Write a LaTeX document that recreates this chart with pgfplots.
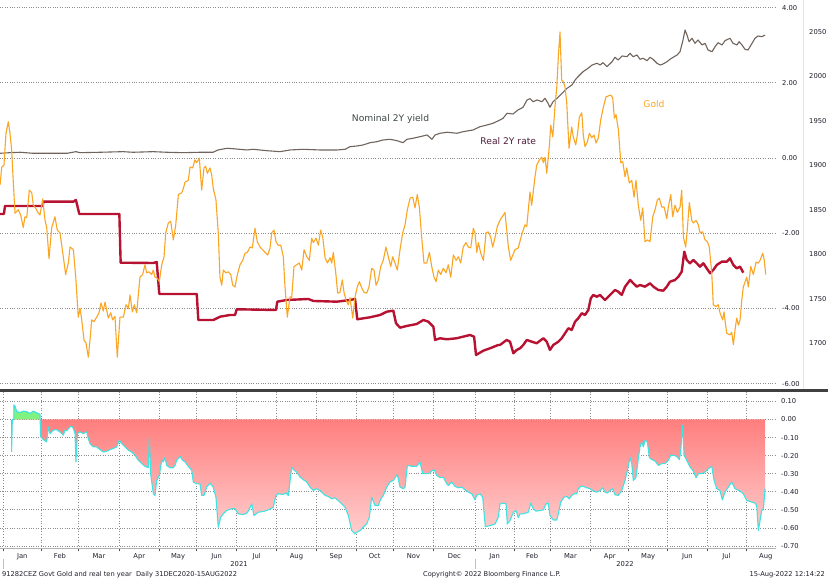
\documentclass[border=0pt]{standalone}
\usepackage{pgfplots}
\pgfplotsset{compat=1.18}
\usepackage{pgfplotstable}
\usepackage{fontspec}
\setmainfont{DejaVu Sans}
\definecolor{goldc}{RGB}{250,165,35}
\definecolor{nomc}{RGB}{112,100,92}
\definecolor{realc}{RGB}{184,18,50}
\definecolor{gridc}{RGB}{140,140,140}
\definecolor{cyanc}{RGB}{64,226,226}
\definecolor{txtc}{RGB}{30,30,42}
\definecolor{nomtxt}{RGB}{62,72,72}
\definecolor{realtxt}{RGB}{80,30,60}
\definecolor{redtop}{RGB}{255,116,116}
\definecolor{redbot}{RGB}{255,206,206}
\definecolor{greenc}{RGB}{128,242,128}
\definecolor{sepc}{RGB}{64,64,64}

\pgfplotstableread{
day val
-1 1878
0.3 1898
2.0 1900
3.6 1936
5.4 1949
6.7 1936
8.0 1917
9.3 1880
10.6 1846
13.1 1850
15.0 1844
17.0 1830
18.3 1842
19.7 1841
21.7 1872
23.6 1869
24.8 1855
26.1 1853
28.7 1846
30.0 1844
32.1 1862
33.9 1838
35.2 1830
37.0 1795
39.1 1830
41.6 1842
43.4 1827
45.5 1824
48.1 1797
49.9 1777
52.0 1790
53.3 1808
55.9 1805
57.9 1771
59.7 1729
61.1 1739
62.4 1726
64.2 1703
65.7 1700
67.5 1684
68.8 1703
70.1 1726
71.9 1724
74.0 1729
75.8 1734
77.4 1745
79.1 1736
80.5 1746
81.8 1737
83.0 1728
84.9 1734
86.4 1726
88.2 1730
90.0 1684
92.1 1729
94.7 1729
96.8 1743
98.6 1739
99.9 1754
101.7 1735
103.2 1743
105.1 1734
106.3 1754
107.6 1774
109.7 1777
111.5 1788
112.8 1779
114.6 1780
116.7 1777
117.9 1782
119.3 1774
121.1 1773
122.6 1769
124.5 1788
126.3 1797
127.6 1824
129.6 1835
131.5 1837
133.5 1816
135.4 1833
137.4 1867
140.0 1869
141.3 1874
142.6 1881
145.1 1883
146.5 1898
148.5 1897
150.3 1906
151.7 1903
153.7 1908
155.5 1872
157.3 1897
158.6 1899
159.9 1891
162.0 1897
163.3 1889
164.5 1874
166.6 1861
168.4 1824
169.7 1774
171.1 1765
172.3 1782
174.2 1779
176.2 1780
178.1 1777
179.6 1765
181.4 1763
183.2 1777
185.3 1788
187.4 1793
189.2 1801
191.0 1802
193.0 1808
194.8 1807
196.9 1829
198.7 1814
200.8 1808
202.1 1806
204.7 1802
206.8 1799
208.6 1807
209.9 1824
211.7 1827
213.2 1814
215.0 1810
216.9 1810
218.9 1797
220.2 1763
222.0 1729
224.1 1752
225.4 1751
227.2 1786
229.3 1788
231.3 1790
233.2 1782
235.0 1805
237.1 1797
239.1 1793
240.9 1818
242.2 1813
244.3 1818
246.1 1810
247.9 1827
249.5 1819
251.3 1796
253.1 1790
255.2 1796
256.5 1790
257.7 1802
259.6 1779
261.1 1756
262.9 1757
264.7 1771
266.0 1757
267.6 1748
269.4 1743
270.7 1751
272.8 1728
274.6 1752
276.3 1763
277.9 1769
279.8 1762
281.5 1757
283.6 1756
285.4 1763
287.5 1784
289.3 1782
290.9 1765
292.7 1771
294.5 1786
296.5 1793
298.6 1808
300.4 1797
302.3 1786
303.8 1797
305.6 1790
307.4 1782
309.5 1805
311.6 1824
313.4 1833
315.2 1850
317.3 1863
319.4 1864
321.1 1852
322.9 1867
324.5 1853
326.3 1819
328.1 1790
330.2 1790
332.3 1802
334.1 1786
335.9 1774
337.5 1769
339.2 1782
341.1 1777
343.1 1784
345.2 1779
347.0 1788
348.9 1774
350.9 1799
353.0 1793
354.8 1797
356.6 1790
358.6 1808
360.7 1813
362.5 1808
364.4 1807
366.4 1829
367.7 1824
369.1 1802
370.3 1813
372.2 1801
374.2 1793
376.3 1824
378.1 1825
379.9 1819
381.5 1808
383.3 1819
385.0 1831
387.1 1838
391.0 1847
393.6 1808
395.4 1793
398.8 1805
401.3 1807
404.0 1822
406.5 1833
407.9 1831
410.4 1870
411.7 1855
414.3 1887
415.6 1900
417.7 1906
419.5 1909
420.8 1903
422.1 1909
423.4 1891
425.4 1921
426.5 1945
428.1 1932
429.8 1966
431.2 1988
432.4 2022
433.7 2050
435.0 1996
436.3 1994
437.6 1988
438.9 1971
440.7 1919
442.8 1943
444.0 1932
445.9 1923
447.2 1934
448.7 1954
450.6 1959
451.8 1934
453.1 1921
454.9 1926
456.5 1936
458.3 1931
460.1 1934
461.7 1925
463.5 1931
465.3 1951
467.3 1965
469.4 1977
471.2 1978
473.1 1979
474.6 1976
475.9 1953
477.2 1957
479.0 1940
480.9 1903
482.4 1904
484.2 1887
485.5 1897
487.5 1880
489.4 1883
491.2 1864
492.7 1883
494.5 1855
496.4 1838
497.9 1852
499.7 1814
501.5 1816
503.6 1814
505.7 1842
507.5 1850
509.3 1861
510.8 1863
512.7 1853
514.5 1853
516.6 1840
517.8 1853
519.7 1867
521.2 1842
523.0 1855
524.8 1847
526.9 1853
528.2 1872
529.5 1819
531.3 1808
532.6 1829
534.1 1858
536.0 1838
537.2 1835
539.3 1838
541.1 1833
542.4 1824
544.5 1825
546.3 1816
548.1 1814
549.6 1808
551.5 1779
552.7 1743
554.8 1741
556.6 1743
557.9 1734
560.0 1726
561.0 1735
563.1 1711
565.7 1709
567.0 1712
568.3 1698
569.6 1715
570.9 1728
572.2 1720
573.5 1726
574.8 1748
576.0 1763
578.7 1774
579.9 1763
581.8 1786
583.8 1777
585.9 1791
587.7 1790
589.0 1793
591.1 1801
592.3 1793
593.4 1777
}\goldtab

\pgfplotstableread{
day val
-1.0 0.125
6.7 0.141
14.5 0.152
24.6 0.125
37.8 0.125
51.0 0.125
57.9 0.168
61.0 0.141
76.6 0.152
94.4 0.168
102.2 0.152
117.7 0.168
128.6 0.152
141.0 0.141
154.2 0.152
164.3 0.152
168.2 0.213
175.2 0.258
179.8 0.247
190.7 0.213
195.4 0.231
206.2 0.194
216.3 0.168
224.1 0.213
234.2 0.231
247.4 0.213
260.6 0.213
266.8 0.231
270.7 0.301
276.1 0.319
280.8 0.346
286.2 0.407
291.6 0.434
296.3 0.479
301.7 0.497
307.2 0.460
311.8 0.407
314.9 0.497
319.6 0.524
325.0 0.566
330.5 0.612
334.3 0.497
336.7 0.612
340.6 0.657
346.0 0.684
353.8 0.657
358.4 0.699
366.2 0.745
371.6 0.832
377.0 0.878
381.7 0.923
387.1 1.011
389.5 1.056
392.6 1.189
397.2 1.170
401.1 1.277
405.0 1.348
408.1 1.543
410.4 1.577
412.8 1.497
415.9 1.543
419.7 1.497
422.1 1.588
424.4 1.455
425.9 1.348
428.3 1.497
431.4 1.588
435.3 1.721
439.2 1.854
443.0 1.941
445.4 2.074
447.7 2.162
451.6 2.295
455.5 2.386
458.6 2.473
462.5 2.519
464.8 2.473
467.1 2.535
470.2 2.428
474.1 2.561
476.4 2.678
478.8 2.606
481.9 2.713
485.7 2.694
488.1 2.785
490.4 2.694
493.5 2.739
495.8 2.625
498.2 2.652
501.3 2.588
503.6 2.678
505.9 2.625
509.0 2.519
511.4 2.473
513.7 2.500
516.8 2.561
519.1 2.625
521.5 2.678
524.6 2.739
526.9 2.827
529.2 3.138
530.8 3.404
532.3 3.271
533.9 3.093
536.2 3.184
538.5 3.051
540.9 3.138
544.0 3.005
546.3 3.051
548.6 2.872
551.7 2.827
554.1 2.960
556.4 3.066
559.5 3.005
561.8 3.120
565.7 3.184
568.0 3.051
571.1 3.005
572.7 3.093
575.0 3.005
577.3 2.891
579.7 2.872
582.8 3.051
585.1 3.184
587.4 3.245
590.5 3.226
592.9 3.271
}\nomtab

\pgfplotstableread{
day val
-1.1 -1.489
2.0 -1.489
2.8 -1.277
32.1 -1.277
32.6 -1.162
55.9 -1.162
57.9 -1.117
60.5 -1.489
91.6 -1.489
92.6 -2.785
118.0 -2.793
120.6 -2.766
122.6 -3.617
151.7 -3.617
152.9 -4.309
164.6 -4.309
169.8 -4.221
177.5 -4.176
181.4 -4.176
182.7 -4.024
213.2 -4.043
214.2 -3.822
221.5 -3.777
238.3 -3.750
242.2 -3.803
260.4 -3.822
270.7 -3.777
274.6 -3.750
276.3 -4.290
286.2 -4.237
294.0 -4.176
299.2 -4.088
304.3 -4.061
306.4 -4.396
309.5 -4.513
314.7 -4.468
322.5 -4.415
327.6 -4.309
331.5 -4.354
335.4 -4.487
336.7 -4.840
340.6 -4.795
345.8 -4.822
353.5 -4.795
363.8 -4.707
367.0 -4.753
368.5 -5.239
374.2 -5.125
379.4 -5.061
385.8 -4.973
387.1 -4.973
392.3 -4.840
394.9 -4.886
397.5 -5.194
400.1 -5.106
402.7 -5.061
405.2 -4.973
407.9 -4.840
411.8 -4.886
415.6 -4.928
420.8 -4.795
423.4 -4.886
425.9 -5.106
428.5 -4.973
432.4 -4.886
435.0 -4.795
437.6 -4.662
440.2 -4.529
442.8 -4.574
445.4 -4.354
447.9 -4.263
450.6 -4.130
453.1 -4.176
455.7 -4.043
457.6 -3.731
459.6 -3.644
462.2 -3.689
464.8 -3.644
468.6 -3.777
472.5 -3.644
476.4 -3.511
479.0 -3.556
481.6 -3.644
484.2 -3.423
488.1 -3.245
490.6 -3.332
493.3 -3.423
495.8 -3.378
499.7 -3.423
503.6 -3.332
506.2 -3.423
510.0 -3.511
513.9 -3.529
516.6 -3.423
519.1 -3.290
523.0 -3.245
525.6 -3.157
528.2 -3.024
530.2 -2.492
532.1 -2.713
534.6 -2.801
537.2 -2.713
539.9 -2.801
542.4 -2.891
545.0 -2.801
547.6 -2.934
550.2 -3.066
552.7 -2.979
555.4 -2.846
559.3 -2.758
563.2 -2.758
565.7 -2.668
568.3 -2.846
570.9 -2.934
573.5 -2.891
576.0 -3.051
}\realtab

\pgfplotstableread{
day val
7.9 -0.180
8.5 0.000
9.7 0.000
9.8 0.080
10.6 0.074
11.9 0.043
14.5 0.039
17.0 0.046
19.7 0.043
22.2 0.033
24.8 0.046
27.4 0.037
30.0 0.028
30.5 -0.096
32.6 -0.111
35.2 -0.124
36.5 -0.041
37.8 -0.078
40.3 -0.059
42.9 -0.056
45.5 -0.069
48.1 -0.087
49.4 -0.059
50.7 -0.063
53.3 -0.041
54.6 -0.037
55.9 -0.050
57.2 -0.078
57.9 -0.235
59.0 -0.078
61.1 -0.069
63.6 -0.078
66.3 -0.069
67.5 -0.106
68.8 -0.133
70.1 -0.143
71.4 -0.152
74.0 -0.152
76.6 -0.167
79.2 -0.180
81.8 -0.176
84.3 -0.167
86.9 -0.161
89.5 -0.152
91.6 -0.115
93.4 -0.133
96.0 -0.152
98.6 -0.170
101.2 -0.180
103.8 -0.198
106.3 -0.226
109.0 -0.244
111.5 -0.259
114.1 -0.267
114.9 -0.096
115.9 -0.300
118.0 -0.411
119.3 -0.420
120.6 -0.337
122.6 -0.309
124.5 -0.226
125.7 -0.235
127.0 -0.211
128.4 -0.254
130.9 -0.267
133.5 -0.267
134.8 -0.254
136.1 -0.226
138.7 -0.204
140.8 -0.226
142.6 -0.235
145.1 -0.259
147.8 -0.281
149.0 -0.346
151.7 -0.356
154.2 -0.356
155.5 -0.420
157.3 -0.420
159.4 -0.374
162.0 -0.352
164.5 -0.374
166.6 -0.430
168.4 -0.596
170.3 -0.541
172.3 -0.522
174.9 -0.504
178.8 -0.494
181.4 -0.494
183.9 -0.522
187.4 -0.526
189.9 -0.522
191.7 -0.507
194.4 -0.467
196.1 -0.531
199.5 -0.513
203.4 -0.509
207.3 -0.500
211.1 -0.485
213.2 -0.420
215.0 -0.411
218.4 -0.415
221.0 -0.407
222.8 -0.420
225.4 -0.263
227.2 -0.281
229.3 -0.291
231.9 -0.319
234.4 -0.333
237.1 -0.346
239.6 -0.374
242.2 -0.393
244.3 -0.383
247.4 -0.393
251.3 -0.420
253.8 -0.426
256.5 -0.439
259.0 -0.433
262.9 -0.457
266.8 -0.485
269.4 -0.531
272.0 -0.615
274.6 -0.633
275.9 -0.624
278.4 -0.615
281.0 -0.596
283.6 -0.578
285.7 -0.541
287.5 -0.430
290.1 -0.476
292.7 -0.476
294.0 -0.448
296.5 -0.420
299.2 -0.374
301.7 -0.346
304.3 -0.337
307.4 -0.304
309.5 -0.374
312.1 -0.383
313.4 -0.374
315.2 -0.254
318.6 -0.259
322.5 -0.259
325.0 -0.235
327.1 -0.300
331.5 -0.300
334.1 -0.285
335.9 -0.278
338.0 -0.309
340.6 -0.322
343.1 -0.319
345.8 -0.356
347.0 -0.365
349.6 -0.346
352.2 -0.370
354.8 -0.378
357.4 -0.374
360.0 -0.389
362.5 -0.402
365.2 -0.411
367.7 -0.444
369.0 -0.420
371.6 -0.411
373.7 -0.430
375.7 -0.593
379.4 -0.587
383.3 -0.578
385.8 -0.541
387.1 -0.467
389.7 -0.463
391.8 -0.467
392.8 -0.578
394.9 -0.559
397.5 -0.513
399.6 -0.504
401.4 -0.544
402.7 -0.522
405.2 -0.522
409.1 -0.513
411.0 -0.463
413.0 -0.494
415.1 -0.507
418.2 -0.504
420.8 -0.500
422.9 -0.467
424.6 -0.463
425.9 -0.531
428.5 -0.556
431.2 -0.556
432.4 -0.522
434.3 -0.457
436.8 -0.430
438.9 -0.426
440.9 -0.439
442.8 -0.420
444.6 -0.411
446.7 -0.411
447.9 -0.383
449.8 -0.370
451.8 -0.370
454.5 -0.378
457.0 -0.383
459.6 -0.396
462.2 -0.402
464.8 -0.393
466.9 -0.378
468.7 -0.402
470.4 -0.407
472.5 -0.393
474.6 -0.383
476.4 -0.417
479.0 -0.420
481.6 -0.393
484.2 -0.337
486.0 -0.281
488.1 -0.211
489.4 -0.244
490.6 -0.337
492.7 -0.319
494.5 -0.217
495.8 -0.152
497.1 -0.124
498.4 -0.152
499.7 -0.115
501.5 -0.124
503.1 -0.211
504.9 -0.222
507.5 -0.230
510.1 -0.254
512.7 -0.244
515.2 -0.244
517.8 -0.226
519.7 -0.198
521.7 -0.198
524.3 -0.204
526.3 -0.222
527.4 -0.180
528.2 -0.096
529.0 -0.031
530.0 -0.198
532.1 -0.226
534.7 -0.263
537.2 -0.285
539.3 -0.322
541.1 -0.300
543.7 -0.300
546.3 -0.291
548.9 -0.272
551.5 -0.259
553.3 -0.337
555.4 -0.383
557.9 -0.393
559.7 -0.444
561.8 -0.402
564.4 -0.374
567.0 -0.346
569.6 -0.383
573.5 -0.396
576.0 -0.411
578.7 -0.448
582.6 -0.457
585.1 -0.463
586.4 -0.476
587.7 -0.615
589.0 -0.559
590.3 -0.504
591.6 -0.494
592.9 -0.383
}\bottab

\pgfplotsset{
  panel/.style={
    scale only axis, width=776bp,
    xmin=-1.06, xmax=601.4,
    axis line style={draw=none},
    major tick length=0pt, minor tick length=0pt,
    tick label style={font=\fontsize{6.8}{8}\selectfont, text=txtc},
    /pgf/number format/assume math mode=true,
    /pgf/number format/1000 sep={},
  },
}

\begin{document}
\begin{tikzpicture}[x=1bp,y=1bp]
\useasboundingbox (0,0) rectangle (828,580);
\fill[white] (0,0) rectangle (828,580);
\draw[black!10, line width=0.6bp] (803,191) -- (803,580);

% top panel: yields
\begin{axis}[panel, at={(0bp,191bp)}, anchor=south west, height=389bp,
  ymin=-6.144, ymax=4.202,
  xtick=\empty,
  ytick={-6,-4,-2,0,2,4},
  yticklabels={-6.00,-4.00,-2.00,0.00,2.00,4.00},
  yticklabel pos=right,
  yticklabel style={anchor=west, inner sep=0pt, xshift=6bp},
  ymajorgrids, grid style={gridc, dotted, line width=0.7bp}]
\addplot[realc, line width=2.4bp, line join=round] table[x=day,y=val]{\realtab};
\addplot[nomc, line width=1.1bp, line join=round] table[x=day,y=val]{\nomtab};
\end{axis}

% top panel: gold
\begin{axis}[panel, at={(0bp,191bp)}, anchor=south west, height=389bp,
  ymin=1648.2, ymax=2086,
  xtick=\empty,
  ytick={1700,1750,1800,1850,1900,1950,2000,2050},
  yticklabel pos=right,
  yticklabel style={anchor=west, inner sep=0pt, xshift=33bp}]
\addplot[goldc, line width=1.1bp, line join=round] table[x=day,y=val]{\goldtab};
\end{axis}

\draw[sepc, line width=2.6bp] (0,189.2) -- (828,189.2);

% bottom panel
\begin{axis}[panel, at={(0bp,31.7bp)}, anchor=south west, height=156.3bp,
  ymin=-0.7128, ymax=0.152,
  axis x line*=bottom, axis y line*=right,
  x axis line style={draw=black!30, line width=0.8bp, -},
  y axis line style={draw=none},
  ytick={-0.7,-0.6,-0.5,-0.4,-0.3,-0.2,-0.1,0,0.1},
  yticklabels={-0.70,-0.60,-0.50,-0.40,-0.30,-0.20,-0.10,0.00,0.10},
  yticklabel style={anchor=west, inner sep=0pt, xshift=5bp},
  xtick={16.25,45.5,75.8,107.1,137.2,167.2,198.3,229.1,259.8,289.8,319.9,351.7,383.0,412.0,441.8,472.4,502.2,532.6,563.0,593.5},
  xticklabels={Jan,Feb,Mar,Apr,May,Jun,Jul,Aug,Sep,Oct,Nov,Dec,Jan,Feb,Mar,Apr,May,Jun,Jul,Aug},
  xticklabel style={anchor=north, inner sep=0pt, yshift=-4.6bp},
  minor xtick={1.5,31.0,60.0,91.6,122.6,151.7,182.7,213.8,244.3,275.3,304.3,335.4,368.0,398.0,426.0,457.6,487.1,517.3,547.8,578.1},
  minor tick length=3bp, tick align=outside,
  minor tick style={black!70, line width=0.7bp},
  ymajorgrids, xminorgrids,
  grid style={gridc, dotted, line width=0.7bp},
  minor grid style={gridc, dotted, line width=0.7bp}]
\addplot[draw=none, top color=redtop, bottom color=redbot] table[x=day,y=val]{\bottab} \closedcycle;
\addplot[draw=none, fill=greenc, restrict x to domain=9.75:30.05] table[x=day,y=val]{\bottab} \closedcycle;
\addplot[cyanc, line width=1.1bp, line join=round] table[x=day,y=val]{\bottab};
\end{axis}

% year row below the month labels
\draw[black!25, line width=0.8bp] (3.3,11) -- (3.3,21);
\draw[black!25, line width=0.8bp] (475.3,11) -- (475.3,21);
\node[font=\fontsize{6.8}{8}\selectfont, text=txtc, inner sep=0pt] at (239,16) {2021};
\node[font=\fontsize{6.8}{8}\selectfont, text=txtc, inner sep=0pt] at (625,16) {2022};

% series labels
\node[font=\fontsize{9.2}{11}\selectfont, text=nomtxt, inner sep=0pt] at (390.5,461) {Nominal 2Y yield};
\node[font=\fontsize{9.2}{11}\selectfont, text=realtxt, inner sep=0pt] at (508.3,439.3) {Real 2Y rate};
\node[font=\fontsize{9.2}{11}\selectfont, text=goldc, inner sep=0pt] at (654,476) {Gold};

% footer
\node[anchor=west, inner sep=0pt, font=\fontsize{6.7}{8}\selectfont, text=txtc] at (2,5.5) {91282CEZ Govt Gold and real ten year\ \ Daily 31DEC2020-15AUG2022};
\node[anchor=west, inner sep=0pt, font=\fontsize{6.7}{8}\selectfont, text=txtc] at (423,5.5) {Copyright© 2022 Bloomberg Finance L.P.};
\node[anchor=east, inner sep=0pt, font=\fontsize{6.7}{8}\selectfont, text=txtc] at (825,5.5) {15-Aug-2022 12:14:22};
\end{tikzpicture}
\end{document}
